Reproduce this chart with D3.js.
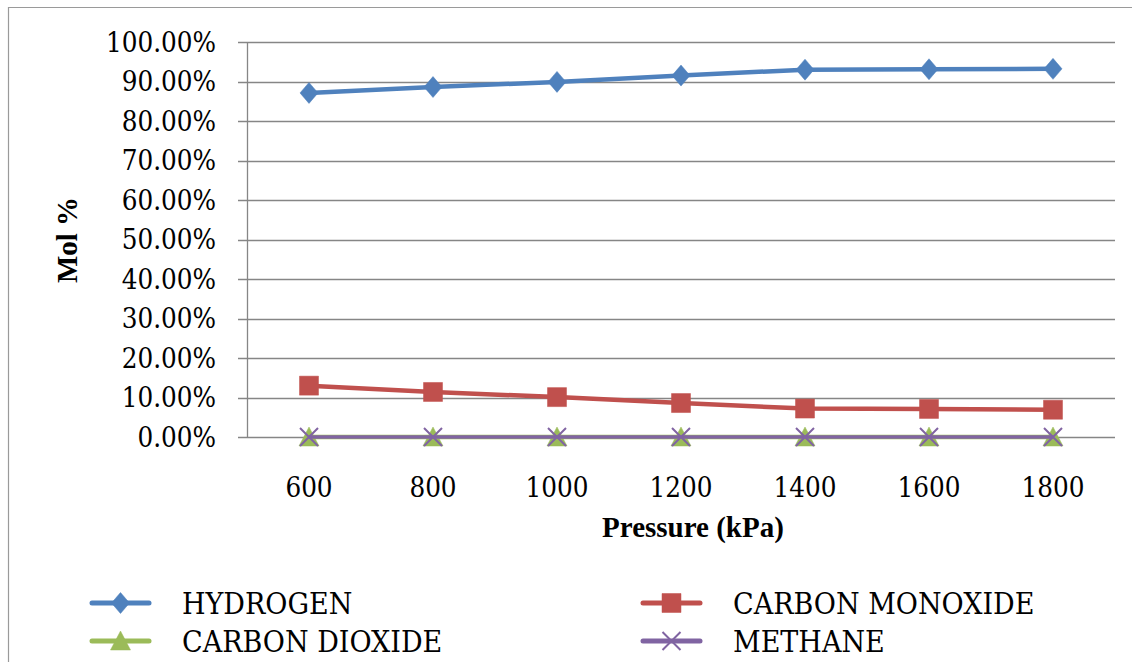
<!DOCTYPE html>
<html>
<head>
<meta charset="utf-8">
<script src="https://cdn.jsdelivr.net/npm/d3@7"></script>
<style>
  html, body { margin: 0; padding: 0; background: #fff; }
  svg { display: block; }
</style>
</head>
<body>
<svg id="chart" width="1132" height="662"></svg>
<script>
// Gas composition vs. pressure
const pressures = ["600", "800", "1000", "1200", "1400", "1600", "1800"];
const hydrogen = [0.871, 0.886, 0.899, 0.915, 0.930, 0.931, 0.932];
const carbonMonoxide = [0.130, 0.114, 0.101, 0.086, 0.072, 0.071, 0.069];
const carbonDioxide = [0.000, 0.000, 0.000, 0.000, 0.000, 0.000, 0.000];
const methane = [0.000, 0.000, 0.000, 0.000, 0.000, 0.000, 0.000];
const yTicks = [0, 0.1, 0.2, 0.3, 0.4, 0.5, 0.6, 0.7, 0.8, 0.9, 1.0];
const seriesNames = ["HYDROGEN", "CARBON MONOXIDE", "CARBON DIOXIDE", "METHANE"];

const series = [
  { name: seriesNames[0], values: hydrogen, color: "#4F81BD", marker: "diamond", width: 4.5 },
  { name: seriesNames[1], values: carbonMonoxide, color: "#C0504D", marker: "square", width: 4.5 },
  { name: seriesNames[2], values: carbonDioxide, color: "#9BBB59", marker: "triangle", width: 4.5 },
  { name: seriesNames[3], values: methane, color: "#8064A2", marker: "x", width: 3.5 }
];

const FONT_TEXT = "'DejaVu Serif Condensed', 'DejaVu Serif', serif";
const FONT_TITLE = "'Liberation Serif', 'Times New Roman', serif";
const svg = d3.select("#chart");

// Outer chart frame (right and bottom edges fall outside the view)
svg.append("path")
  .attr("d", "M8.5,700 L8.5,7.5 L1140,7.5")
  .attr("fill", "none")
  .attr("stroke", "#9a9a9a")
  .attr("stroke-width", 1.2);

const plot = { left: 247, right: 1115, top: 42, bottom: 437 };

const x = d3.scaleBand().domain(pressures).range([plot.left, plot.right]).paddingInner(0).paddingOuter(0);
const y = d3.scaleLinear().domain([0, 1]).range([plot.bottom, plot.top]);

// Horizontal gridlines, extended a little left of the axis as ticks
svg.append("g").selectAll("line")
  .data(yTicks)
  .join("line")
  .attr("x1", plot.left - 9)
  .attr("x2", plot.right)
  .attr("y1", d => Math.round(y(d)) + 0.5)
  .attr("y2", d => Math.round(y(d)) + 0.5)
  .attr("stroke", "#868686")
  .attr("stroke-width", 1.3);

// Vertical axis line
svg.append("line")
  .attr("x1", plot.left + 0.5).attr("x2", plot.left + 0.5)
  .attr("y1", plot.top).attr("y2", plot.bottom + 1)
  .attr("stroke", "#868686")
  .attr("stroke-width", 1.3);

// Y tick labels
const pct = d3.format(".2%");
svg.append("g").selectAll("text")
  .data(yTicks)
  .join("text")
  .attr("x", 216)
  .attr("y", d => y(d))
  .attr("dy", "0.36em")
  .attr("text-anchor", "end")
  .attr("font-family", FONT_TEXT)
  .attr("font-size", 27.5)
  .text(d => pct(d));

// X tick labels
svg.append("g").selectAll("text")
  .data(pressures)
  .join("text")
  .attr("x", d => x(d) + x.bandwidth() / 2)
  .attr("y", 497)
  .attr("text-anchor", "middle")
  .attr("font-family", FONT_TEXT)
  .attr("font-size", 27.5)
  .text(d => d);

// Axis titles
svg.append("text")
  .attr("x", 693)
  .attr("y", 537)
  .attr("text-anchor", "middle")
  .attr("font-family", FONT_TITLE)
  .attr("font-size", 29)
  .attr("font-weight", "bold")
  .text("Pressure (kPa)");

svg.append("text")
  .attr("transform", "translate(77,240) rotate(-90)")
  .attr("text-anchor", "middle")
  .attr("font-family", FONT_TITLE)
  .attr("font-size", 29)
  .attr("font-weight", "bold")
  .text("Mol %");

// Marker shapes
function markerPath(type) {
  switch (type) {
    case "diamond": return "M0,-10.5 L9,0 L0,10.5 L-9,0 Z";
    case "square": return "M-9.5,-9.5 L9.5,-9.5 L9.5,9.5 L-9.5,9.5 Z";
    case "triangle": return "M0,-10 L10,9 L-10,9 Z";
    case "x": return "M-9,-9 L9,9 M-9,9 L9,-9";
  }
}
function drawMarker(g, type, color) {
  const p = g.append("path").attr("d", markerPath(type));
  if (type === "x") {
    p.attr("fill", "none").attr("stroke", color).attr("stroke-width", 2);
  } else {
    p.attr("fill", color).attr("stroke", color).attr("stroke-width", 0.5);
  }
}

const lineGen = d3.line()
  .x((d, i) => x(pressures[i]) + x.bandwidth() / 2)
  .y(d => y(d));

series.forEach(s => {
  const g = svg.append("g");
  g.append("path")
    .datum(s.values)
    .attr("d", lineGen)
    .attr("fill", "none")
    .attr("stroke", s.color)
    .attr("stroke-width", s.width)
    .attr("stroke-linejoin", "round");
  s.values.forEach((v, i) => {
    const m = g.append("g")
      .attr("transform", `translate(${x(pressures[i]) + x.bandwidth() / 2},${y(v)})`);
    drawMarker(m, s.marker, s.color);
  });
});

// Legend, two columns
const legendPos = [
  { lx: 92, ty: 603 }, { lx: 643, ty: 603 },
  { lx: 92, ty: 641 }, { lx: 643, ty: 641 }
];
series.forEach((s, i) => {
  const p = legendPos[i];
  const g = svg.append("g");
  g.append("line")
    .attr("x1", p.lx).attr("x2", p.lx + 57)
    .attr("y1", p.ty).attr("y2", p.ty)
    .attr("stroke", s.color)
    .attr("stroke-width", 5)
    .attr("stroke-linecap", "round");
  const m = g.append("g").attr("transform", `translate(${p.lx + 28.5},${p.ty})`);
  drawMarker(m, s.marker, s.color);
  g.append("text")
    .attr("x", p.lx + 90)
    .attr("y", p.ty)
    .attr("dy", "0.36em")
    .attr("font-family", FONT_TEXT)
    .attr("font-size", 30)
    .text(s.name);
});
</script>
</body>
</html>
